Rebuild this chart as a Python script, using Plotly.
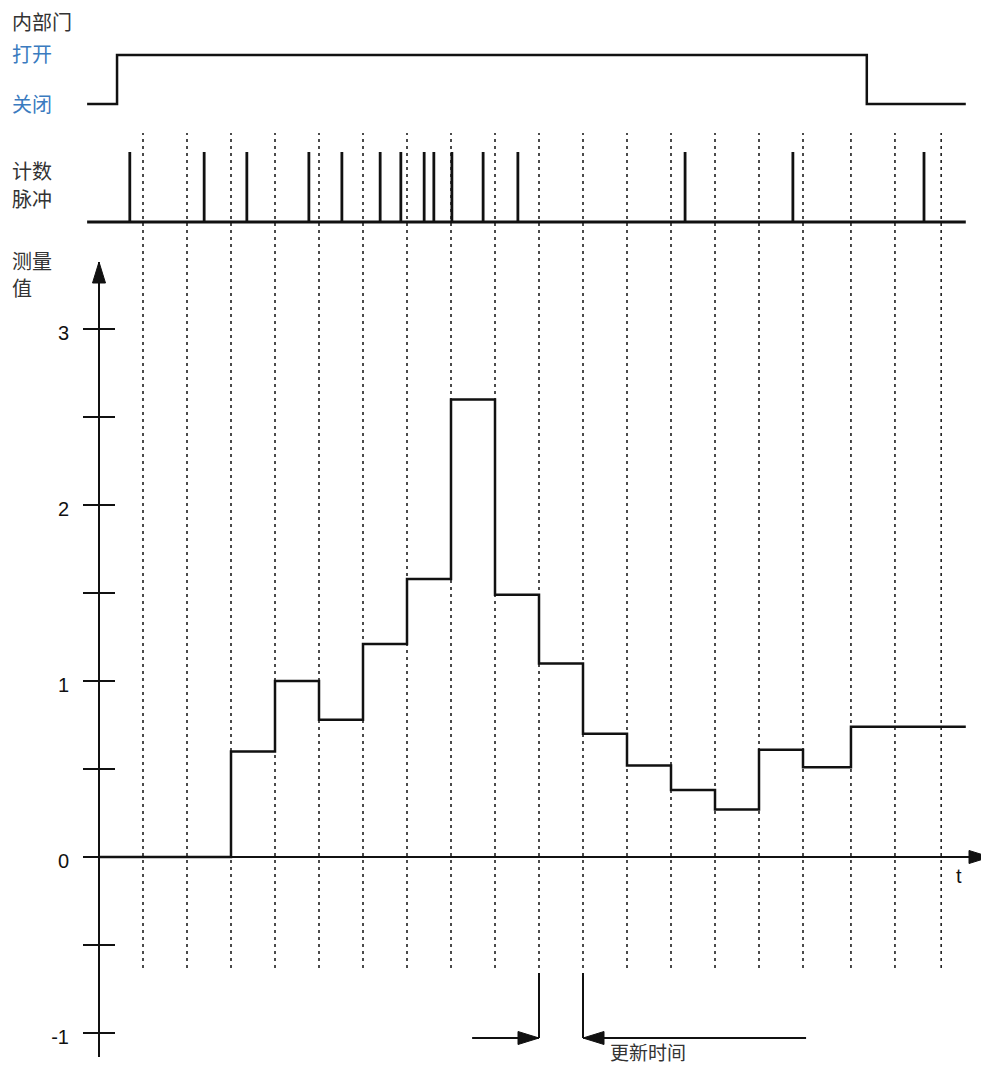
import plotly.graph_objects as go

# ---------------------------------------------------------------------------
# Data (time in sample periods, roughly one period between dashed lines)
# ---------------------------------------------------------------------------
sample_times = [1, 2, 3, 4, 5, 6, 7, 8, 9, 10, 11, 12, 13, 14, 15, 16,
                17.09, 18.09, 19.14]                  # update instants (dashed lines)

gate_t = [-0.27, 0.41, 17.45, 19.70]              # internal gate: start, open, close, end
gate_state = [0, 1, 0, 0]                         # 0 = 关闭, 1 = 打开

pulse_times = [0.70, 2.39, 3.36, 4.77, 5.52, 6.39, 6.86, 7.39, 7.61,
               8.02, 8.73, 9.52, 13.32, 15.77, 18.75]
trace_start, trace_end = -0.27, 19.70

step_t = [0, 3, 4, 5, 6, 7, 8, 9, 10, 11, 12, 13, 14, 15, 16, 17.09, 19.70]
step_val = [0, 0.60, 1.00, 0.78, 1.21, 1.58, 2.60, 1.49, 1.10, 0.70,
            0.52, 0.38, 0.27, 0.61, 0.51, 0.74, 0.74]

y_tick_vals = [-1, -0.5, 0, 0.5, 1, 1.5, 2, 2.5, 3]
y_tick_text = ["-1", "", "0", "", "1", "", "2", "", "3"]

update_interval = (10, 11)                        # 更新时间 marker
update_arrow_tails = (8.48, 16.07)

# ---------------------------------------------------------------------------
# Page geometry (pixels)
# ---------------------------------------------------------------------------
W, H = 981, 1066
PX_T = 44.0              # pixels per sample period
X0 = 99                  # pixel column of t = 0 (value axis)
Y0 = 857                 # pixel row of value 0
PX_V = 176               # pixels per value unit


def t_of(px):
    return (px - X0) / PX_T


def v_of(py):
    return (Y0 - py) / PX_V


def frac_y(py):
    return (H - py) / H


INK = "#111111"
TXT = "#333333"
BLUE = "#3a7bbf"
FONT = "Noto Sans CJK SC"
NUM_FONT = "Liberation Sans"

fig = go.Figure()

# measured value step curve
fig.add_trace(go.Scatter(
    x=step_t, y=step_val, mode="lines", line=dict(color=INK, width=2.5, shape="hv"),
    xaxis="x", yaxis="y", hoverinfo="skip", showlegend=False))

# helper trace so the inside-tick overlay axis is rendered
fig.add_trace(go.Scatter(x=[None], y=[None], xaxis="x", yaxis="y4",
                         showlegend=False, hoverinfo="skip"))

# internal gate signal
fig.add_trace(go.Scatter(
    x=gate_t, y=gate_state, mode="lines", line=dict(color=INK, width=2.5, shape="hv"),
    xaxis="x", yaxis="y2", hoverinfo="skip", showlegend=False))

# count pulses: baseline plus one spike per pulse
px, py = [trace_start, trace_end, None], [0, 0, None]
for tp in pulse_times:
    px += [tp, tp, None]
    py += [0, 1, None]
fig.add_trace(go.Scatter(
    x=px, y=py, mode="lines", line=dict(color=INK, width=2.8),
    xaxis="x", yaxis="y3", hoverinfo="skip", showlegend=False))

shapes = []
# dashed sample-instant lines
for ts in sample_times:
    shapes.append(dict(type="line", xref="x", yref="paper", x0=ts, x1=ts,
                       y0=frac_y(968), y1=frac_y(133),
                       line=dict(color=INK, width=1.5, dash="3px,4px"), layer="below"))

# time axis line
shapes.append(dict(type="line", xref="x", yref="y", x0=t_of(84), x1=t_of(981),
                   y0=0, y1=0, line=dict(color=INK, width=2)))


# arrowheads drawn in pixel units around an anchor
def arrow(xa, ya, direction, length=21, half=6.5):
    if direction == "up":
        path = f"M0,0 L{-half},{-length} L{half},{-length} Z"
    elif direction == "right":
        path = f"M0,0 L{-length},{half} L{-length},{-half} Z"
    else:
        path = f"M0,0 L{length},{half} L{length},{-half} Z"
    return dict(type="path", xref="x", yref="y", xsizemode="pixel", ysizemode="pixel",
                xanchor=xa, yanchor=ya, path=path,
                fillcolor=INK, line=dict(color=INK, width=1))


shapes.append(arrow(0, v_of(262), "up"))
shapes.append(arrow(t_of(990), 0, "right"))

# update time markers
u_top, u_bot = v_of(973), v_of(1038)
for tu in update_interval:
    shapes.append(dict(type="line", xref="x", yref="y", x0=tu, x1=tu, y0=u_top, y1=u_bot,
                       line=dict(color=INK, width=2)))
shapes.append(dict(type="line", xref="x", yref="y", x0=update_arrow_tails[0],
                   x1=update_interval[0], y0=u_bot, y1=u_bot, line=dict(color=INK, width=2)))
shapes.append(dict(type="line", xref="x", yref="y", x0=update_interval[1],
                   x1=update_arrow_tails[1], y0=u_bot, y1=u_bot, line=dict(color=INK, width=2)))
shapes.append(arrow(update_interval[0], u_bot, "right"))
shapes.append(arrow(update_interval[1], u_bot, "left"))


# text labels
def label(text, x, y, color=TXT, size=20, font=FONT, xanchor="left"):
    return dict(text=text, x=x / W, y=frac_y(y), xref="paper", yref="paper",
                xanchor=xanchor, yanchor="middle", showarrow=False,
                font=dict(family=font, size=size, color=color))


annotations = [
    label("内部门", 10, 21),
    label("打开", 10, 54, color=BLUE),
    label("关闭", 10, 104, color=BLUE),
    label("计数", 10, 171),
    label("脉冲", 10, 198),
    label("测量", 10, 260),
    label("值", 10, 287),
    label("t", 954, 876, color=INK, font=NUM_FONT),
    label("更新时间", 608, 1051, size=19),
]

x_range = [t_of(0), t_of(W)]

fig.update_layout(
    width=W, height=H, margin=dict(l=0, r=0, t=0, b=0),
    paper_bgcolor="white", plot_bgcolor="rgba(0,0,0,0)",
    showlegend=False, shapes=shapes, annotations=annotations,
    xaxis=dict(domain=[0, 1], range=x_range, visible=False, fixedrange=True),
    yaxis=dict(
        domain=[frac_y(1057), frac_y(262)], range=[v_of(1057), v_of(262)],
        anchor="free", position=X0 / W, showline=True, linecolor=INK, linewidth=2,
        ticks="outside", ticklen=15, tickwidth=2, tickcolor=INK,
        tickvals=y_tick_vals, ticktext=y_tick_text, ticklabelstandoff=10,
        ticklabelshift=4,
        tickfont=dict(family=NUM_FONT, size=20, color=INK),
        showgrid=False, zeroline=False),
    yaxis4=dict(
        overlaying="y", range=[v_of(1057), v_of(262)], anchor="free", position=X0 / W,
        showline=False, ticks="inside", ticklen=15, tickwidth=2, tickcolor=INK,
        tickvals=y_tick_vals, showticklabels=False, showgrid=False, zeroline=False),
    yaxis2=dict(
        domain=[frac_y(112), frac_y(45)], range=[(104 - 112) / 49, (104 - 45) / 49],
        anchor="x", visible=False),
    yaxis3=dict(
        domain=[frac_y(230), frac_y(145)], range=[(222 - 230) / 70, (222 - 145) / 70],
        anchor="x", visible=False),
)

fig.write_html("out.html")
